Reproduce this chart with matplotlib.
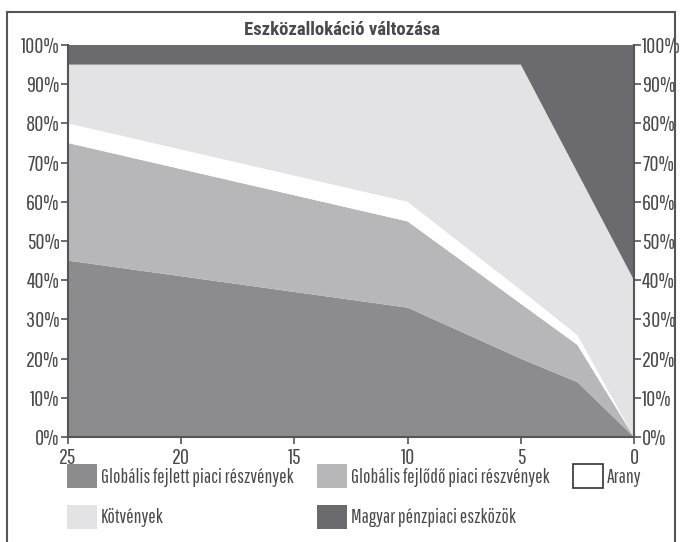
import matplotlib.pyplot as plt
from matplotlib.patches import Rectangle, Patch
from matplotlib.ticker import FuncFormatter

plt.rcParams['font.family'] = ['Pathway Gothic One', 'Roboto Condensed', 'DejaVu Sans']

# Adatok
years = [25, 10, 5, 2.5, 0]
fejlett = [45, 33, 20, 14, 0]
fejlodo = [30, 22, 14, 9.5, 0]
arany = [5, 5, 3.5, 2.5, 0]
kotveny = [15, 35, 57.5, 41.5, 40]
penzpiac = [5, 5, 5, 32.5, 60]

labels = ['Globális fejlett piaci részvények', 'Globális fejlődő piaci részvények',
          'Arany', 'Kötvények', 'Magyar pénzpiaci eszközök']
colors = ['#8c8c8e', '#b7b7b9', '#ffffff', '#e3e2e4', '#6b6b6f']
txt = '#4a4a4c'

fig = plt.figure(figsize=(6.83, 5.42), dpi=100)
ax = fig.add_axes([68/683, 1-437/542, (634-68)/683, (437-45)/542])

ax.stackplot(years, fejlett, fejlodo, arany, kotveny, penzpiac, colors=colors, linewidth=0)
ax.set_xlim(25, 0)
ax.set_ylim(0, 100)
ax.set_xticks([25, 20, 15, 10, 5, 0])
ax.set_yticks(range(0, 101, 10))
ax.yaxis.set_major_formatter(FuncFormatter(lambda v, p: f'{int(v)}%'))
ax.tick_params(axis='y', which='both', left=True, right=True, labelleft=True, labelright=True,
               length=5, width=1.2, color='#555558', labelcolor=txt, labelsize=16, pad=1)
ax.tick_params(axis='x', length=5, width=1.2, color='#555558', labelcolor=txt, labelsize=16, pad=3)
ax.spines['top'].set_visible(False)
for s in ['left', 'right', 'bottom']:
    ax.spines[s].set_color('#555558')
    ax.spines[s].set_linewidth(1.5)

fig.text(0.5, 1-30/542, 'Eszközallokáció változása', ha='center', va='center',
         fontsize=13.5, fontweight='bold', color=txt,
         family=['Roboto Condensed', 'DejaVu Sans'])

# Keret
fig.patches.append(Rectangle((7/683, -0.05), (675-7)/683, 1.05-12/542, transform=fig.transFigure,
                             fill=False, edgecolor='#555558', linewidth=1.5))

# Jelmagyarázat
handles = [Patch(facecolor=c, edgecolor=('#333333' if c == '#ffffff' else 'none'), linewidth=1.2)
           for c in colors]
order = [0, 3, 1, 4, 2]
leg = fig.legend([handles[i] for i in order], [labels[i] for i in order], ncol=3,
                 loc='upper left', bbox_to_anchor=(67/683, 1-464/542), frameon=False,
                 fontsize=14, handlelength=1.55, handleheight=1.55, handletextpad=0.2,
                 columnspacing=1.2, labelspacing=0.85, borderaxespad=0, borderpad=0)
for t in leg.get_texts():
    t.set_color(txt)

fig.savefig('out.png', dpi=100)
